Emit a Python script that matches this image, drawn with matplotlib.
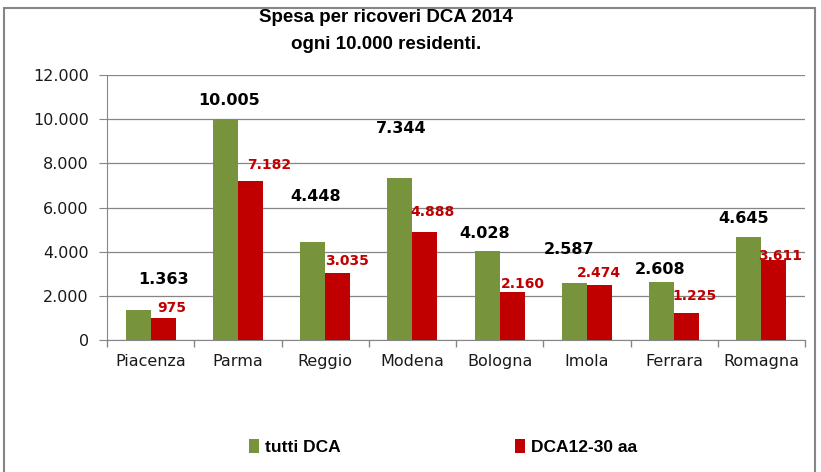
import matplotlib
matplotlib.use("Agg")
import matplotlib.pyplot as plt
from matplotlib.patches import Rectangle
from matplotlib.ticker import FuncFormatter, FixedLocator
import numpy as np

categories = ["Piacenza", "Parma", "Reggio", "Modena", "Bologna", "Imola", "Ferrara", "Romagna"]
tutti_dca = [1363, 10005, 4448, 7344, 4028, 2587, 2608, 4645]
dca_12_30 = [975, 7182, 3035, 4888, 2160, 2474, 1225, 3611]
series_names = ["tutti DCA", "DCA12-30 aa"]
title = "Spesa per ricoveri DCA 2014\nogni 10.000 residenti."

# label offsets in pixels (dx, dy) from bar top-centre, mimicking the manual placement
green_off = [(25, 30), (4, 19), (3, 45), (1, 49), (-3, 18), (-5, 33), (-2, 13), (-5, 19)]
red_off = [(9, 10), (19, 16), (9, 12), (8, 20), (11, 8), (0, 12), (8, 17), (6, 4)]

GREEN = "#77933C"
RED = "#C00000"
GRID = "#868686"

W, H = 821, 472
fig = plt.figure(figsize=(W / 100, H / 100), dpi=100)
fig.patch.set_facecolor("white")

L, R, T, B = 107, 805, 75, 340
ax = fig.add_axes([L / W, (H - B) / H, (R - L) / W, (B - T) / H])

def fmt(v):
    return f"{int(v):,}".replace(",", ".")

x = np.arange(len(categories))
bw = 0.2865
ax.bar(x - bw / 2, tutti_dca, bw, color=GREEN, label=series_names[0], zorder=3)
ax.bar(x + bw / 2, dca_12_30, bw, color=RED, label=series_names[1], zorder=3)

for i in range(len(categories)):
    ax.annotate(fmt(tutti_dca[i]), (x[i] - bw / 2, tutti_dca[i]), xytext=green_off[i],
                textcoords="offset pixels", ha="center", va="center",
                fontsize=11.5, fontweight="bold", color="black", zorder=5)
    ax.annotate(fmt(dca_12_30[i]), (x[i] + bw / 2, dca_12_30[i]), xytext=red_off[i],
                textcoords="offset pixels", ha="center", va="center",
                fontsize=10, fontweight="bold", color=RED, zorder=5)

ax.set_xlim(-0.5, len(categories) - 0.5)
ax.set_ylim(0, 12000)
ax.set_yticks(np.arange(0, 12001, 2000))
ax.yaxis.set_major_formatter(FuncFormatter(lambda v, p: fmt(v)))
ax.set_xticks(x)
ax.set_xticklabels(categories)
ax.xaxis.set_minor_locator(FixedLocator(np.arange(-0.5, len(categories), 1.0)))
ax.tick_params(axis="x", which="major", length=0, pad=10)
ax.tick_params(axis="x", which="minor", length=5, color=GRID, width=1)
ax.tick_params(axis="y", length=6, color=GRID, pad=7)
ax.grid(axis="y", color=GRID, linewidth=0.9, zorder=0)
for s in ["top", "right"]:
    ax.spines[s].set_visible(False)
for s in ["left", "bottom"]:
    ax.spines[s].set_color(GRID)
for lab in ax.get_xticklabels() + ax.get_yticklabels():
    lab.set_fontfamily("DejaVu Sans")
    lab.set_fontsize(11.5)
    lab.set_color("#1a1a1a")

fig.text(386 / W, 1 - 31 / H, title, ha="center", va="center", fontsize=13.5,
         fontweight="bold", family="Liberation Sans", linespacing=1.75)

handles, labels = ax.get_legend_handles_labels()
leg_prop = {"family": "Liberation Sans", "weight": "bold", "size": 12.5}
fig.legend(handles[:1], labels[:1], loc="center", bbox_to_anchor=(295 / W, 1 - 447 / H),
           frameon=False, handlelength=0.55, handleheight=0.9, handletextpad=0.35,
           prop=leg_prop)
fig.legend(handles[1:], labels[1:], loc="center", bbox_to_anchor=(576 / W, 1 - 447 / H),
           frameon=False, handlelength=0.55, handleheight=0.9, handletextpad=0.35,
           prop=leg_prop)

fig.patches.append(Rectangle((4 / W, -0.05), (815 - 4) / W, 1.05 - 8 / H,
                             transform=fig.transFigure, fill=False,
                             edgecolor=GRID, linewidth=1.5))

fig.savefig("out.png", dpi=100)
